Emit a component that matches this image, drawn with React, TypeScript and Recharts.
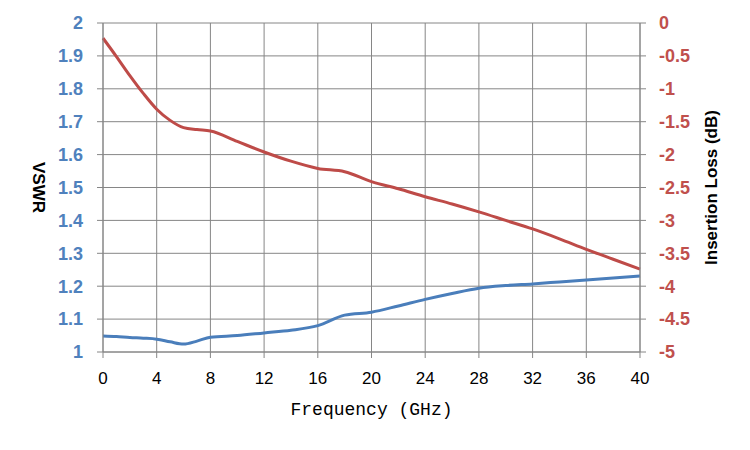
import React from 'react';
import { LineChart, Line, XAxis, YAxis, CartesianGrid, Label } from 'recharts';

const freq = [0, 1, 2, 3, 4, 5, 6, 7, 8, 10, 12, 14, 16, 18, 20, 22, 24, 26, 28, 30, 32, 34, 36, 38, 40];
const vswr = [1.049, 1.047, 1.044, 1.042, 1.039, 1.031, 1.024, 1.033, 1.045, 1.05, 1.058, 1.066, 1.08, 1.112, 1.121, 1.14, 1.16, 1.178, 1.194, 1.202, 1.207, 1.213, 1.219, 1.225, 1.231];
const insertionLoss = [-0.23, -0.51, -0.8, -1.07, -1.31, -1.48, -1.59, -1.62, -1.64, -1.8, -1.96, -2.1, -2.21, -2.26, -2.41, -2.52, -2.64, -2.75, -2.87, -3.0, -3.13, -3.28, -3.44, -3.59, -3.74];

const xTicks = [0, 4, 8, 12, 16, 20, 24, 28, 32, 36, 40];
const vswrTicks = [1, 1.1, 1.2, 1.3, 1.4, 1.5, 1.6, 1.7, 1.8, 1.9, 2];
const lossTicks = [-5, -4.5, -4, -3.5, -3, -2.5, -2, -1.5, -1, -0.5, 0];

const data = freq.map((f, i) => ({ f, vswr: vswr[i], loss: insertionLoss[i] }));

const GRID = '#868686';
const BLUE = '#4A7EBB';
const RED = '#BE4B48';
const SANS = '"Liberation Sans", Arial, sans-serif';

export default function App() {
  return (
    <LineChart width={750} height={450} data={data} margin={{ top: 15, right: 0, bottom: 0, left: 0 }}>
      <CartesianGrid yAxisId="left" stroke={GRID} strokeWidth={1} />
      <XAxis
        dataKey="f"
        type="number"
        domain={[0, 40]}
        ticks={xTicks}
        interval={0}
        height={106}
        stroke={GRID}
        tickSize={6}
        tickMargin={14}
        tick={{ fill: '#000', fontSize: 17, fontFamily: SANS }}
      >
        <Label
          content={({ viewBox }: any) => (
            <text
              x={viewBox.x + viewBox.width / 2}
              y={viewBox.y + 58}
              textAnchor="middle"
              dominantBaseline="middle"
              fontSize={18}
              fontFamily='"Liberation Mono", monospace'
              fill="#000"
            >
              Frequency (GHz)
            </text>
          )}
        />
      </XAxis>
      <YAxis
        yAxisId="left"
        domain={[1, 2]}
        ticks={vswrTicks}
        interval={0}
        width={95}
        stroke={GRID}
        tickSize={6}
        tickMargin={14}
        tick={{ fill: '#4F81BD', fontSize: 18, fontWeight: 'bold', fontFamily: SANS }}
      >
        <Label
          content={({ viewBox }: any) => (
            <text
              x={viewBox.x + 29}
              y={viewBox.y + viewBox.height / 2}
              textAnchor="middle"
              dominantBaseline="middle"
              fontSize={17}
              fontWeight="bold"
              fontFamily={SANS}
              fill="#000"
              transform={`rotate(90, ${viewBox.x + 29}, ${viewBox.y + viewBox.height / 2})`}
            >
              VSWR
            </text>
          )}
        />
      </YAxis>
      <YAxis
        yAxisId="right"
        orientation="right"
        domain={[-5, 0]}
        ticks={lossTicks}
        interval={0}
        width={118}
        stroke={GRID}
        tickSize={6}
        tickMargin={13}
        tick={{ fill: '#C0504D', fontSize: 18, fontWeight: 'bold', fontFamily: SANS }}
      >
        <Label
          content={({ viewBox }: any) => (
            <text
              x={viewBox.x + 73}
              y={viewBox.y + viewBox.height / 2}
              textAnchor="middle"
              dominantBaseline="middle"
              fontSize={17}
              fontWeight="bold"
              fontFamily={SANS}
              fill="#000"
              transform={`rotate(-90, ${viewBox.x + 73}, ${viewBox.y + viewBox.height / 2})`}
            >
              Insertion Loss (dB)
            </text>
          )}
        />
      </YAxis>
      <Line
        yAxisId="left"
        type="monotone"
        dataKey="vswr"
        stroke={BLUE}
        strokeWidth={3}
        dot={false}
        activeDot={false}
        isAnimationActive={false}
      />
      <Line
        yAxisId="right"
        type="monotone"
        dataKey="loss"
        stroke={RED}
        strokeWidth={3}
        dot={false}
        activeDot={false}
        isAnimationActive={false}
      />
    </LineChart>
  );
}
